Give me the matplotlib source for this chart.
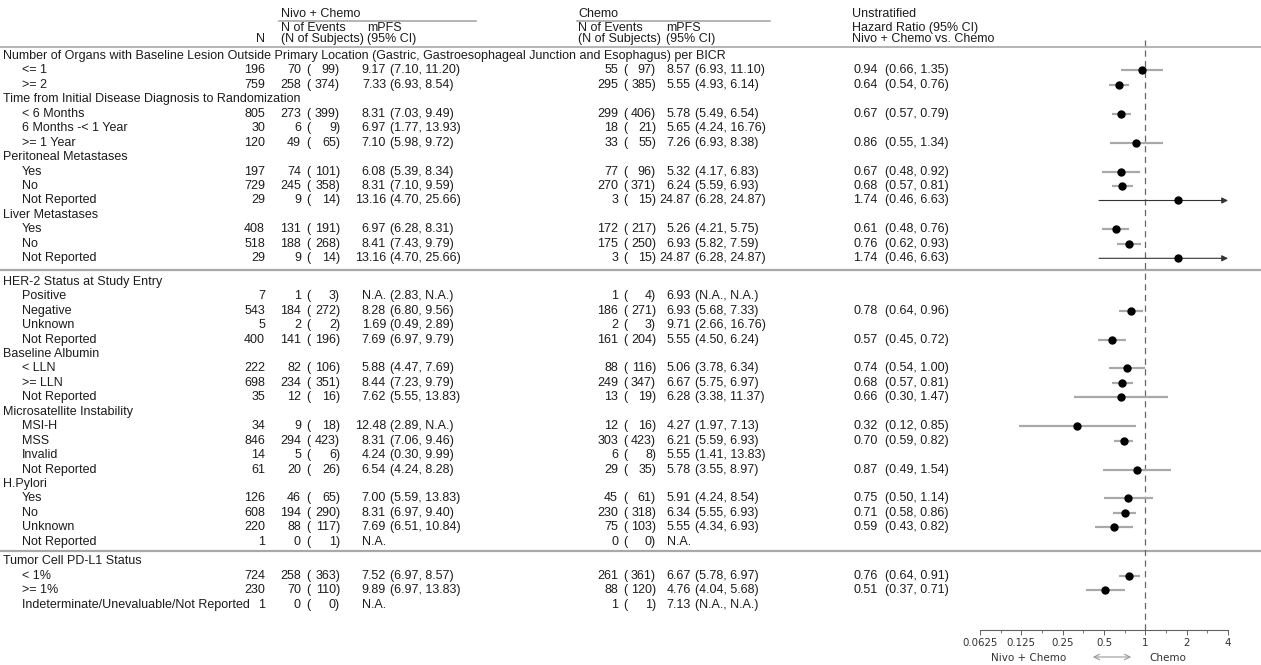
import numpy as np
import matplotlib
matplotlib.use("Agg")
import matplotlib.pyplot as plt
from matplotlib import font_manager
from matplotlib.ticker import FixedLocator, NullFormatter

nan = np.nan

# subgroup table
group_titles = [
    "Number of Organs with Baseline Lesion Outside Primary Location (Gastric, Gastroesophageal Junction and Esophagus) per BICR",
    "Time from Initial Disease Diagnosis to Randomization",
    "Peritoneal Metastases",
    "Liver Metastases",
    "HER-2 Status at Study Entry",
    "Baseline Albumin",
    "Microsatellite Instability",
    "H.Pylori",
    "Tumor Cell PD-L1 Status",
]
group_levels = [
    ["<= 1", ">= 2"],
    ["< 6 Months", "6 Months -< 1 Year", ">= 1 Year"],
    ["Yes", "No", "Not Reported"],
    ["Yes", "No", "Not Reported"],
    ["Positive", "Negative", "Unknown", "Not Reported"],
    ["< LLN", ">= LLN", "Not Reported"],
    ["MSI-H", "MSS", "Invalid", "Not Reported"],
    ["Yes", "No", "Unknown", "Not Reported"],
    ["< 1%", ">= 1%", "Indeterminate/Unevaluable/Not Reported"],
]
section_breaks = {4: 9.0, 8: 5.0}

n_total = [196, 759, 805, 30, 120, 197, 729, 29, 408, 518, 29, 7, 543, 5, 400,
           222, 698, 35, 34, 846, 14, 61, 126, 608, 220, 1, 724, 230, 1]
nivo_events = [70, 258, 273, 6, 49, 74, 245, 9, 131, 188, 9, 1, 184, 2, 141,
               82, 234, 12, 9, 294, 5, 20, 46, 194, 88, 0, 258, 70, 0]
nivo_subj = [99, 374, 399, 9, 65, 101, 358, 14, 191, 268, 14, 3, 272, 2, 196,
             106, 351, 16, 18, 423, 6, 26, 65, 290, 117, 1, 363, 110, 0]
nivo_mpfs = ["9.17", "7.33", "8.31", "6.97", "7.10", "6.08", "8.31", "13.16", "6.97",
             "8.41", "13.16", "N.A.", "8.28", "1.69", "7.69", "5.88", "8.44", "7.62",
             "12.48", "8.31", "4.24", "6.54", "7.00", "8.31", "7.69", "N.A.", "7.52",
             "9.89", "N.A."]
nivo_ci = ["(7.10, 11.20)", "(6.93, 8.54)", "(7.03, 9.49)", "(1.77, 13.93)", "(5.98, 9.72)",
           "(5.39, 8.34)", "(7.10, 9.59)", "(4.70, 25.66)", "(6.28, 8.31)", "(7.43, 9.79)",
           "(4.70, 25.66)", "(2.83, N.A.)", "(6.80, 9.56)", "(0.49, 2.89)", "(6.97, 9.79)",
           "(4.47, 7.69)", "(7.23, 9.79)", "(5.55, 13.83)", "(2.89, N.A.)", "(7.06, 9.46)",
           "(0.30, 9.99)", "(4.24, 8.28)", "(5.59, 13.83)", "(6.97, 9.40)", "(6.51, 10.84)",
           "", "(6.97, 8.57)", "(6.97, 13.83)", ""]
chemo_events = [55, 295, 299, 18, 33, 77, 270, 3, 172, 175, 3, 1, 186, 2, 161,
                88, 249, 13, 12, 303, 6, 29, 45, 230, 75, 0, 261, 88, 1]
chemo_subj = [97, 385, 406, 21, 55, 96, 371, 15, 217, 250, 15, 4, 271, 3, 204,
              116, 347, 19, 16, 423, 8, 35, 61, 318, 103, 0, 361, 120, 1]
chemo_mpfs = ["8.57", "5.55", "5.78", "5.65", "7.26", "5.32", "6.24", "24.87", "5.26",
              "6.93", "24.87", "6.93", "6.93", "9.71", "5.55", "5.06", "6.67", "6.28",
              "4.27", "6.21", "5.55", "5.78", "5.91", "6.34", "5.55", "N.A.", "6.67",
              "4.76", "7.13"]
chemo_ci = ["(6.93, 11.10)", "(4.93, 6.14)", "(5.49, 6.54)", "(4.24, 16.76)", "(6.93, 8.38)",
            "(4.17, 6.83)", "(5.59, 6.93)", "(6.28, 24.87)", "(4.21, 5.75)", "(5.82, 7.59)",
            "(6.28, 24.87)", "(N.A., N.A.)", "(5.68, 7.33)", "(2.66, 16.76)", "(4.50, 6.24)",
            "(3.78, 6.34)", "(5.75, 6.97)", "(3.38, 11.37)", "(1.97, 7.13)", "(5.59, 6.93)",
            "(1.41, 13.83)", "(3.55, 8.97)", "(4.24, 8.54)", "(5.55, 6.93)", "(4.34, 6.93)",
            "", "(5.78, 6.97)", "(4.04, 5.68)", "(N.A., N.A.)"]
hr = [0.94, 0.64, 0.67, nan, 0.86, 0.67, 0.68, 1.74, 0.61, 0.76, 1.74, nan, 0.78, nan,
      0.57, 0.74, 0.68, 0.66, 0.32, 0.70, nan, 0.87, 0.75, 0.71, 0.59, nan, 0.76, 0.51, nan]
hr_lo = [0.66, 0.54, 0.57, nan, 0.55, 0.48, 0.57, 0.46, 0.48, 0.62, 0.46, nan, 0.64, nan,
         0.45, 0.54, 0.57, 0.30, 0.12, 0.59, nan, 0.49, 0.50, 0.58, 0.43, nan, 0.64, 0.37, nan]
hr_hi = [1.35, 0.76, 0.79, nan, 1.34, 0.92, 0.81, 6.63, 0.76, 0.93, 6.63, nan, 0.96, nan,
         0.72, 1.00, 0.81, 1.47, 0.85, 0.82, nan, 1.54, 1.14, 0.86, 0.82, nan, 0.91, 0.71, nan]

hr_ticks = [0.0625, 0.125, 0.25, 0.5, 1, 2, 4]
hr_tick_labels = ["0.0625", "0.125", "0.25", "0.5", "1", "2", "4"]

installed = {f.name for f in font_manager.fontManager.ttflist}
body_font = "Liberation Sans Narrow" if "Liberation Sans Narrow" in installed else "Liberation Sans"
FS = 9.0
TXT = "#1c1c1c"
RULE = "#a8a8a8"

W, H = 1261, 665
fig = plt.figure(figsize=(W / 100, H / 100), dpi=100)
ax = fig.add_axes([0, 0, 1, 1])
ax.set_xlim(0, W)
ax.set_ylim(H, 0)
ax.axis("off")


def put(x, y, s, ha="left", **kw):
    ax.text(x, y, s, ha=ha, va="center", fontsize=FS, family=[body_font, "DejaVu Sans"],
            color=TXT, **kw)


# column headers
put(281, 14, "Nivo + Chemo")
put(281, 28, "N of Events")
put(281, 39, "(N of Subjects)")
put(367, 28, "mPFS")
put(367, 39, "(95% CI)")
put(578, 14, "Chemo")
put(578, 28, "N of Events")
put(578, 39, "(N of Subjects)")
put(666, 28, "mPFS")
put(666, 39, "(95% CI)")
put(852, 14, "Unstratified")
put(852, 28, "Hazard Ratio (95% CI)")
put(852, 39, "Nivo + Chemo vs. Chemo")
put(265, 39, "N", ha="right")
ax.plot([279, 476], [21, 21], color=RULE, lw=1.2)
ax.plot([577, 770], [21, 21], color=RULE, lw=1.2)
ax.plot([0, W], [47, 47], color=RULE, lw=1.2)

# row layout
step = 14.45
y = 56.0
title_y, level_y, seps = [], [], []
for g, levels in enumerate(group_levels):
    if g in section_breaks:
        gap = section_breaks[g]
        seps.append(y - step / 2 + gap / 2 - 0.5)
        y += gap
    title_y.append(y)
    y += step
    for _ in levels:
        level_y.append(y)
        y += step

for yy in seps:
    ax.plot([0, W], [yy, yy], color=RULE, lw=1.6)

for g, title in enumerate(group_titles):
    put(3, title_y[g], title)

labels = [lv for levels in group_levels for lv in levels]
for i, yy in enumerate(level_y):
    put(22, yy, labels[i])
    put(265, yy, str(n_total[i]), ha="right")
    put(301, yy, str(nivo_events[i]), ha="right")
    put(306, yy, "(")
    put(340, yy, f"{nivo_subj[i]})", ha="right")
    put(386, yy, nivo_mpfs[i], ha="right")
    if nivo_ci[i]:
        put(390, yy, nivo_ci[i])
    put(618, yy, str(chemo_events[i]), ha="right")
    put(623, yy, "(")
    put(656, yy, f"{chemo_subj[i]})", ha="right")
    put(691, yy, chemo_mpfs[i], ha="right")
    if chemo_ci[i]:
        put(695, yy, chemo_ci[i])
    if not np.isnan(hr[i]):
        put(853, yy, f"{hr[i]:.2f}")
        put(885, yy, f"({hr_lo[i]:.2f}, {hr_hi[i]:.2f})")

# forest panel, sharing the pixel rows of the table
x0, x1, ytop, ybot = 980, 1228, 40, 630
fx = fig.add_axes([x0 / W, 1 - ybot / H, (x1 - x0) / W, (ybot - ytop) / H])
fx.set_xscale("log", base=2)
fx.set_xlim(hr_ticks[0], hr_ticks[-1])
fx.set_ylim(ybot, ytop)
fx.patch.set_alpha(0)
for side in ("top", "left", "right"):
    fx.spines[side].set_visible(False)
fx.spines["bottom"].set_color("#606060")
fx.spines["bottom"].set_linewidth(0.8)
fx.set_yticks([])
fx.xaxis.set_major_locator(FixedLocator(hr_ticks))
fx.set_xticklabels(hr_tick_labels, fontsize=7.4, family="DejaVu Sans", color="#333333")
fx.xaxis.set_minor_locator(FixedLocator([t * np.sqrt(2) for t in hr_ticks[:-1]]))
fx.xaxis.set_minor_formatter(NullFormatter())
fx.tick_params(axis="x", which="major", length=3.5, width=0.7, color="#606060", pad=2)
fx.tick_params(axis="x", which="minor", length=2, width=0.6, color="#606060")

fx.axvline(1, color="#666666", lw=0.9, dashes=(5, 3.5))

hr_a = np.array(hr)
lo_a = np.array(hr_lo)
hi_a = np.array(hr_hi)
ys = np.array(level_y)
ok = ~np.isnan(hr_a)
inside = ok & (hi_a <= hr_ticks[-1])
fx.hlines(ys[inside], lo_a[inside], hi_a[inside], color="#a9a9a9", lw=1.6)
for i in np.where(ok & (hi_a > hr_ticks[-1]))[0]:
    fx.annotate("", xy=(hr_ticks[-1], ys[i]), xytext=(lo_a[i], ys[i]),
                arrowprops=dict(arrowstyle="-|>", color="#333333", lw=0.8,
                                mutation_scale=9, shrinkA=0, shrinkB=0))
fx.plot(hr_a[ok], ys[ok], "o", color="black", ms=5, zorder=3)

# direction caption under the axis
ax.text(1029, 658, "Nivo + Chemo", ha="center", va="center", fontsize=7.5,
        family="DejaVu Sans", color="#333333")
ax.annotate("", xy=(1134, 657), xytext=(1090, 657),
            arrowprops=dict(arrowstyle="<->", color="#999999", lw=0.8))
ax.text(1168, 658, "Chemo", ha="center", va="center", fontsize=7.5,
        family="DejaVu Sans", color="#333333")

fig.savefig("out.png", dpi=100)
